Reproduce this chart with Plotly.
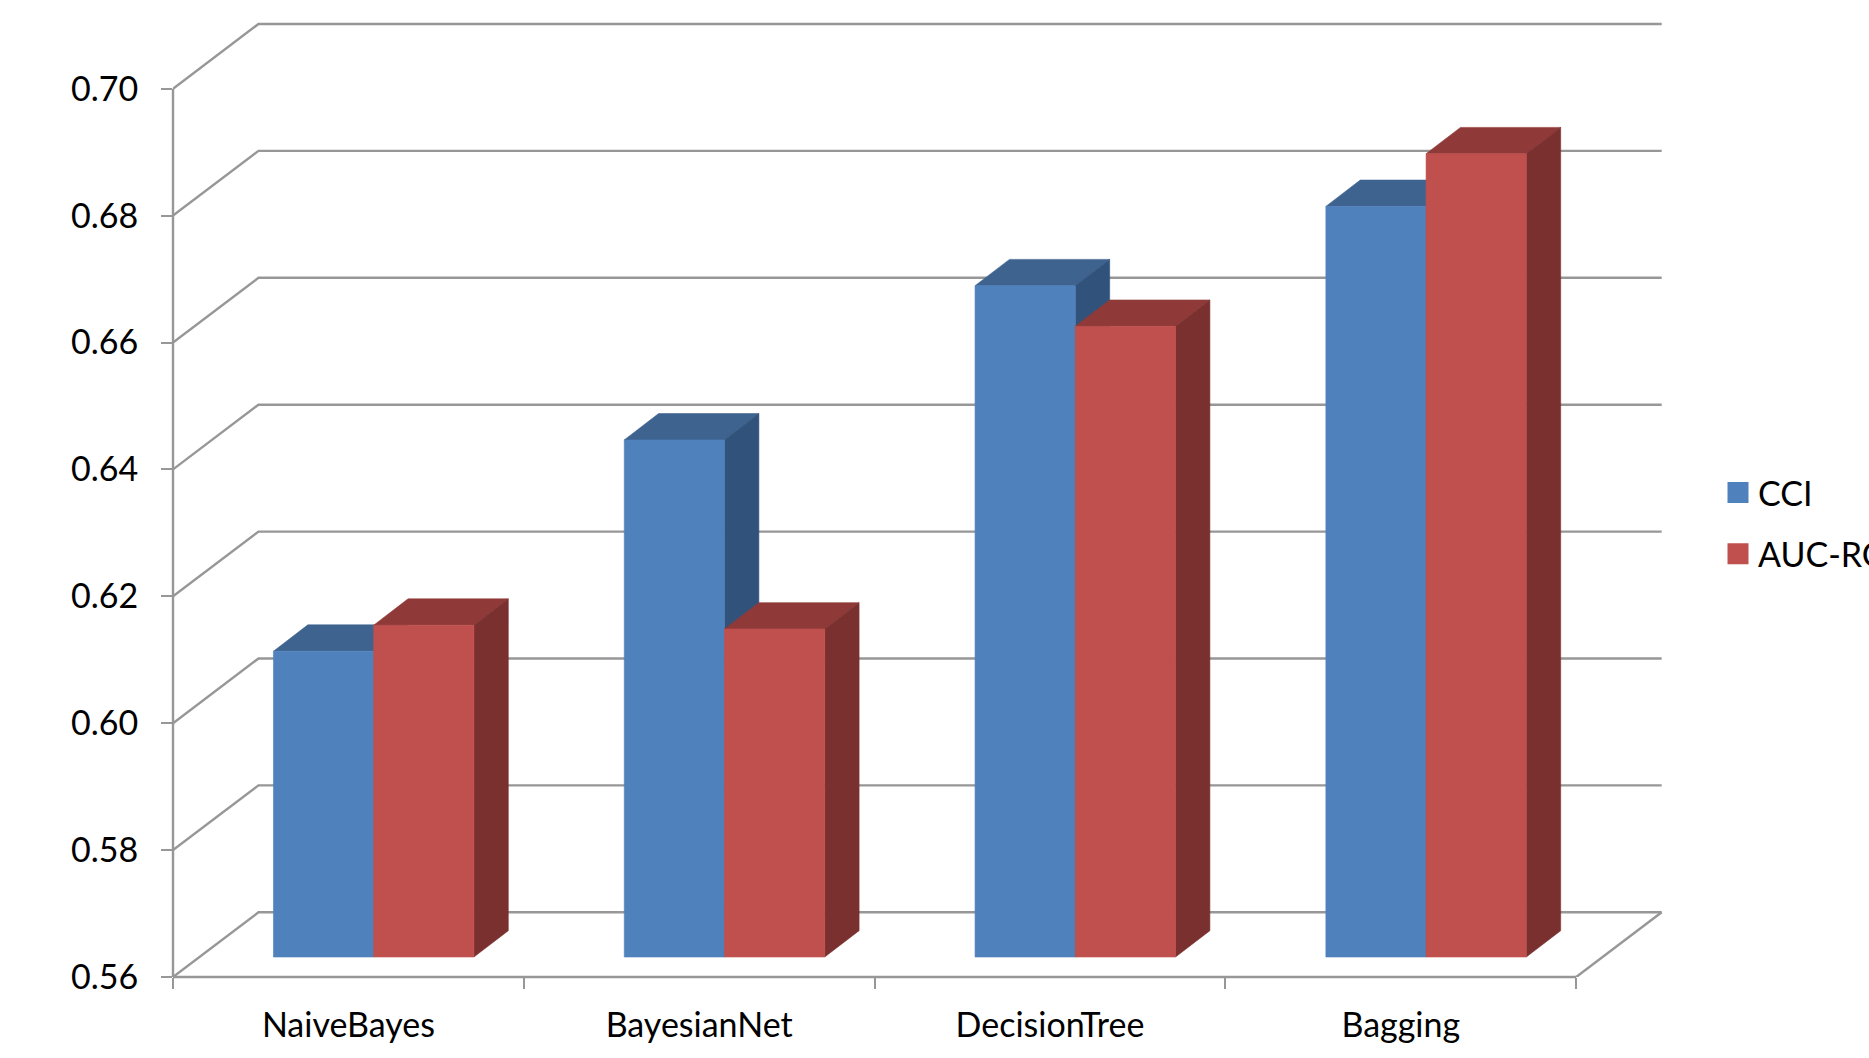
import plotly.graph_objects as go

categories = ["NaiveBayes", "BayesianNet", "DecisionTree", "Bagging"]
cci_values = [0.6082, 0.6415, 0.6658, 0.6783]
auc_roc_values = [0.6123, 0.6117, 0.6594, 0.6866]
y_ticks = [0.56, 0.58, 0.60, 0.62, 0.64, 0.66, 0.68, 0.70]

# Pseudo-3D projection, expressed in axis units
WALL_DX, WALL_DY = 0.2437, 0.0102      # floor depth
BAR_DX, BAR_DY = 0.098, 0.00415        # bar depth
BAR_LIFT = 0.00315                     # front faces sit partway back on the floor
BAR_START, BAR_WIDTH = 0.2864, 0.2857
Y_MIN = 0.56

GRID = "#979797"
LINE_WIDTH = 2.4
FONT = "Lato"
FONT_SIZE = 34

fig = go.Figure()


def polyline(xs, ys):
    fig.add_trace(go.Scatter(x=xs, y=ys, mode="lines", showlegend=False, hoverinfo="skip",
                             cliponaxis=False, line=dict(color=GRID, width=LINE_WIDTH)))


def face(xs, ys, color):
    fig.add_trace(go.Scatter(x=xs + xs[:1], y=ys + ys[:1], mode="lines", fill="toself",
                             fillcolor=color, showlegend=False, hoverinfo="skip",
                             line=dict(color=color, width=0.6)))


def bar_3d(x0, value, front, top, side):
    x1 = x0 + BAR_WIDTH
    y0 = Y_MIN + BAR_LIFT
    y1 = value + BAR_LIFT
    face([x0, x0 + BAR_DX, x1 + BAR_DX, x1], [y1, y1 + BAR_DY, y1 + BAR_DY, y1], top)
    face([x1, x1 + BAR_DX, x1 + BAR_DX, x1], [y0, y0 + BAR_DY, y1 + BAR_DY, y1], side)
    face([x0, x1, x1, x0], [y0, y0, y1, y1], front)


# Walls and floor
for tick in y_ticks:
    polyline([0, WALL_DX, len(categories) + WALL_DX], [tick, tick + WALL_DY, tick + WALL_DY])
polyline([len(categories), len(categories) + WALL_DX], [Y_MIN, Y_MIN + WALL_DY])

# Bars, painted back to front within each category
for i in range(len(categories)):
    left = i + BAR_START
    bar_3d(left, cci_values[i], "#4F81BD", "#3E638F", "#31527B")
    bar_3d(left + BAR_WIDTH, auc_roc_values[i], "#C0504D", "#8F3A38", "#7A302F")

# Legend keys; the outline brings the swatch up to its full size
fig.add_trace(go.Scatter(x=[None], y=[None], mode="markers", name="CCI", legendgroup="a",
                         marker=dict(symbol="square", size=16, color="#4F81BD",
                                     line=dict(width=5, color="#4F81BD"))))
fig.add_trace(go.Scatter(x=[None], y=[None], mode="markers", name="AUC-ROC", legendgroup="b",
                         marker=dict(symbol="square", size=16, color="#C0504D",
                                     line=dict(width=5, color="#C0504D"))))

# Front axis lines stop at the last tick on each axis, so they are drawn as shapes
fig.add_shape(type="line", xref="paper", yref="y", x0=0, x1=0, y0=y_ticks[0], y1=y_ticks[-1],
              line=dict(color=GRID, width=LINE_WIDTH))
fig.add_shape(type="line", xref="x", yref="paper", x0=0, x1=len(categories), y0=0, y1=0,
              line=dict(color=GRID, width=LINE_WIDTH))

fig.update_layout(
    width=1869,
    height=1058,
    margin=dict(l=172.5, r=0, t=0, b=81, autoexpand=False),
    paper_bgcolor="white",
    plot_bgcolor="white",
    font=dict(family=FONT, size=FONT_SIZE, color="black"),
    showlegend=True,
    legend=dict(xref="container", yref="container", x=1718 / 1869, y=1 - 464 / 1058,
                xanchor="left", yanchor="top", bgcolor="rgba(0,0,0,0)", itemsizing="trace",
                tracegroupgap=14, font=dict(family=FONT, size=FONT_SIZE)),
    xaxis=dict(
        range=[0, (1869 - 172.5) / 350.9],
        tickmode="array",
        tickvals=[i + 0.5 for i in range(len(categories))],
        ticktext=categories,
        ticks="outside", ticklen=18, tickcolor="rgba(0,0,0,0)",
        minor=dict(tickmode="array", tickvals=list(range(len(categories) + 1)),
                   ticks="outside", ticklen=11, tickwidth=2, tickcolor=GRID, showgrid=False),
        showgrid=False, zeroline=False, showline=False,
    ),
    yaxis=dict(
        range=[Y_MIN, Y_MIN + 977 / 6345],
        tickmode="array",
        tickvals=y_ticks,
        ticktext=[f"{t:.2f}" for t in y_ticks],
        ticks="outside", ticklen=11, tickwidth=2, tickcolor=GRID, ticklabelstandoff=16,
        showgrid=False, zeroline=False, showline=False,
    ),
)

fig.write_html("out.html")
